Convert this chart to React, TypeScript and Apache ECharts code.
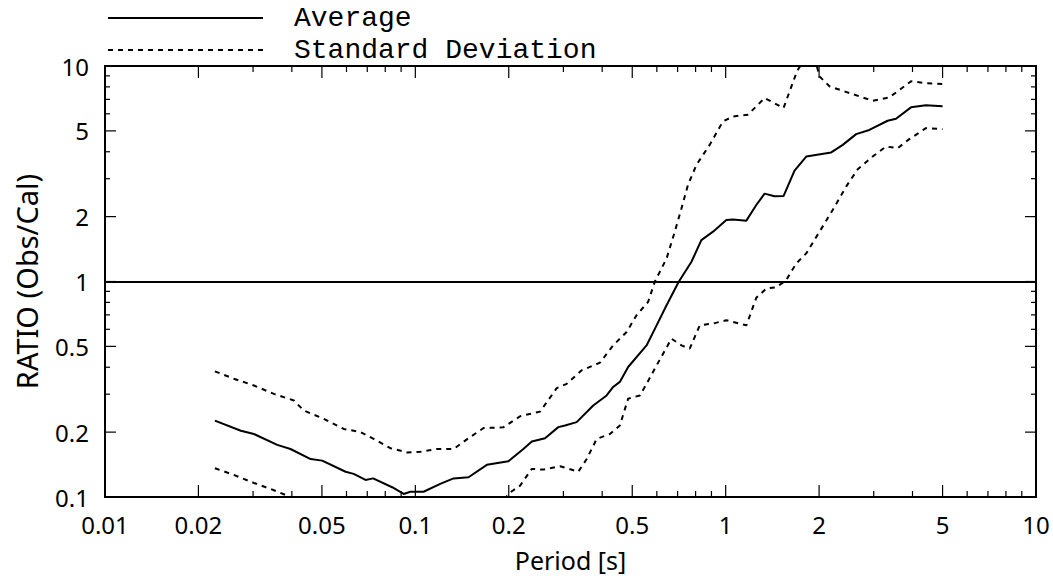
import React, { useEffect, useRef } from "react";
import * as echarts from "echarts";

// ---- data (period [s], ratio) ----
const averagePeriod = [0.0226, 0.0274, 0.0302, 0.0359, 0.0396, 0.046, 0.0501, 0.0596, 0.0633, 0.0691, 0.0731, 0.0842, 0.0917, 0.0964, 0.1063, 0.1203, 0.1328, 0.1484, 0.17, 0.1995, 0.2229, 0.2373, 0.2618, 0.2889, 0.3036, 0.331, 0.3744, 0.4134, 0.434, 0.456, 0.485, 0.556, 0.599, 0.645, 0.706, 0.776, 0.835, 0.9105, 1.005, 1.056, 1.166, 1.255, 1.335, 1.437, 1.536, 1.667, 1.818, 2.188, 2.384, 2.633, 2.904, 3.326, 3.539, 3.955, 4.418, 5.0];
const averageRatio = [0.226, 0.203, 0.196, 0.1745, 0.167, 0.15, 0.1475, 0.131, 0.128, 0.12, 0.122, 0.111, 0.1033, 0.1058, 0.1058, 0.115, 0.122, 0.1235, 0.141, 0.1466, 0.167, 0.181, 0.1875, 0.211, 0.2146, 0.2226, 0.266, 0.296, 0.324, 0.342, 0.401, 0.505, 0.626, 0.776, 0.997, 1.235, 1.556, 1.703, 1.928, 1.94, 1.916, 2.264, 2.558, 2.485, 2.49, 3.273, 3.8, 3.97, 4.305, 4.83, 5.05, 5.57, 5.69, 6.43, 6.57, 6.5];

const upperPeriod = [0.0226, 0.026, 0.0302, 0.035, 0.0406, 0.0437, 0.0507, 0.0588, 0.0666, 0.0734, 0.0831, 0.094, 0.1038, 0.1174, 0.1328, 0.15, 0.166, 0.192, 0.2176, 0.2523, 0.2855, 0.3074, 0.3436, 0.3935, 0.434, 0.4795, 0.516, 0.5626, 0.591, 0.645, 0.6855, 0.7205, 0.756, 0.805, 0.888, 0.98, 1.056, 1.179, 1.335, 1.536, 1.7, 1.8, 1.95, 2.006, 2.16, 2.505, 2.976, 3.368, 3.955, 4.418, 5.0];
const upperRatio = [0.383, 0.354, 0.329, 0.301, 0.2805, 0.252, 0.2306, 0.207, 0.2, 0.186, 0.1685, 0.161, 0.162, 0.167, 0.167, 0.1895, 0.209, 0.2105, 0.237, 0.249, 0.32, 0.335, 0.387, 0.42, 0.505, 0.583, 0.697, 0.805, 0.997, 1.279, 1.703, 2.185, 2.805, 3.475, 4.305, 5.53, 5.83, 5.94, 7.1, 6.38, 9.5, 10.8, 10.5, 8.95, 8.05, 7.49, 6.9, 7.15, 8.49, 8.33, 8.25];

const lowerPeriod = [0.0226, 0.026, 0.0302, 0.0342, 0.0387, 0.0427, 0.06, 0.1, 0.15, 0.19, 0.2021, 0.2176, 0.2373, 0.2585, 0.2926, 0.335, 0.3566, 0.384, 0.4236, 0.456, 0.485, 0.529, 0.556, 0.599, 0.669, 0.7205, 0.766, 0.825, 0.9105, 1.005, 1.166, 1.255, 1.352, 1.456, 1.567, 1.688, 1.818, 2.006, 2.213, 2.444, 2.664, 2.976, 3.286, 3.581, 3.905, 4.418, 5.0];
const lowerRatio = [0.136, 0.1266, 0.1162, 0.1089, 0.1014, 0.095, 0.085, 0.08, 0.085, 0.095, 0.105, 0.113, 0.135, 0.134, 0.139, 0.131, 0.15, 0.186, 0.196, 0.2146, 0.286, 0.296, 0.335, 0.408, 0.543, 0.505, 0.488, 0.626, 0.638, 0.661, 0.626, 0.84, 0.928, 0.94, 1.014, 1.213, 1.35, 1.703, 2.146, 2.757, 3.319, 3.8, 4.231, 4.155, 4.576, 5.147, 5.09];

// ---- axes ----
const xRange = [0.01, 10];
const yRange = [0.1, 10];
const xMajorTicks = [0.01, 0.02, 0.05, 0.1, 0.2, 0.5, 1, 2, 5, 10];
const xMinorTicks = [0.03, 0.04, 0.06, 0.07, 0.08, 0.09, 0.3, 0.4, 0.6, 0.7, 0.8, 0.9, 3, 4, 6, 7, 8, 9];
const yMajorTicks = [0.1, 0.2, 0.5, 1, 2, 5, 10];
const yMinorTicks = [0.3, 0.4, 0.6, 0.7, 0.8, 0.9, 3, 4, 6, 7, 8, 9];
const referenceRatio = 1;

const seriesNames = ["Average", "Standard Deviation"];
const xAxisName = "Period [s]";
const yAxisName = "RATIO (Obs/Cal)";

const pairs = (xs: number[], ys: number[]) => xs.map((x, i) => [x, ys[i]]);

const TICK_FONT = '24px "Noto Sans", sans-serif';

function xTickSeries(values: number[], major: boolean) {
  return {
    type: "custom",
    silent: true,
    z: 5,
    clip: false,
    data: values.map((v) => [v, yRange[0]]),
    renderItem: (params: any, api: any) => {
      const v = api.value(0);
      const b = api.coord([v, yRange[0]]);
      const t = api.coord([v, yRange[1]]);
      const len = major ? 12 : 6;
      const children: any[] = [
        { type: "line", shape: { x1: b[0], y1: b[1], x2: b[0], y2: b[1] - len }, style: { stroke: "#000", lineWidth: 1.2 } },
        { type: "line", shape: { x1: t[0], y1: t[1], x2: t[0], y2: t[1] + len }, style: { stroke: "#000", lineWidth: 1.2 } },
      ];
      if (major) {
        children.push({
          type: "text",
          x: b[0],
          y: b[1] + 27,
          style: { text: String(values[params.dataIndex]), font: TICK_FONT, fill: "#000", align: "center", verticalAlign: "middle" },
        });
      }
      return { type: "group", children };
    },
  };
}

function yTickSeries(values: number[], major: boolean) {
  return {
    type: "custom",
    silent: true,
    z: 5,
    clip: false,
    data: values.map((v) => [xRange[0], v]),
    renderItem: (params: any, api: any) => {
      const v = api.value(1);
      const l = api.coord([xRange[0], v]);
      const r = api.coord([xRange[1], v]);
      const len = major ? 11 : 5;
      const children: any[] = [
        { type: "line", shape: { x1: l[0], y1: l[1], x2: l[0] + len, y2: l[1] }, style: { stroke: "#000", lineWidth: 1.2 } },
        { type: "line", shape: { x1: r[0], y1: r[1], x2: r[0] - len, y2: r[1] }, style: { stroke: "#000", lineWidth: 1.2 } },
      ];
      if (major) {
        children.push({
          type: "text",
          x: l[0] - 16,
          y: l[1],
          style: { text: String(values[params.dataIndex]), font: TICK_FONT, fill: "#000", align: "right", verticalAlign: "middle" },
        });
      }
      return { type: "group", children };
    },
  };
}

export default function App() {
  const ref = useRef<HTMLDivElement>(null);

  useEffect(() => {
    document.body.style.margin = "0";
    if (!ref.current) return;
    const chart = echarts.init(ref.current, null, { renderer: "svg" });
    const lineCommon = {
      type: "line",
      symbol: "none",
      showSymbol: false,
      clip: true,
      z: 3,
    };
    chart.setOption({
      animation: false,
      backgroundColor: "#fff",
      grid: {
        left: 105,
        right: 17,
        top: 66,
        bottom: 83,
        containLabel: false,
        outerBoundsMode: "none",
        show: true,
        borderColor: "#000",
        borderWidth: 2,
        backgroundColor: "transparent",
      },
      legend: {
        data: seriesNames,
        orient: "vertical",
        left: 102,
        top: -1,
        itemWidth: 155,
        itemHeight: 14,
        itemGap: 4,
        selectedMode: false,
        itemStyle: { opacity: 0 },
        textStyle: {
          fontFamily: '"Liberation Mono", monospace',
          fontSize: 28,
          color: "#000",
          padding: [0, 0, 0, 26],
        },
      },
      xAxis: {
        type: "log",
        logBase: 10,
        min: xRange[0],
        max: xRange[1],
        name: xAxisName,
        nameLocation: "middle",
        nameGap: 50,
        nameTextStyle: { fontFamily: '"Noto Sans", sans-serif', fontSize: 25, color: "#000" },
        axisLine: { show: false },
        axisTick: { show: false },
        axisLabel: { show: false },
        splitLine: { show: false },
      },
      yAxis: {
        type: "log",
        logBase: 10,
        min: yRange[0],
        max: yRange[1],
        name: yAxisName,
        nameLocation: "middle",
        nameRotate: 90,
        nameGap: 64,
        nameTextStyle: { fontFamily: '"Noto Sans", sans-serif', fontSize: 29, color: "#000" },
        axisLine: { show: false },
        axisTick: { show: false },
        axisLabel: { show: false },
        splitLine: { show: false },
      },
      series: [
        {
          ...lineCommon,
          name: seriesNames[0],
          data: pairs(averagePeriod, averageRatio),
          lineStyle: { color: "#000", width: 2, type: "solid" },
          itemStyle: { color: "#000" },
          markLine: {
            silent: true,
            symbol: ["none", "none"],
            label: { show: false },
            lineStyle: { color: "#000", type: "solid", width: 1.8 },
            data: [{ yAxis: referenceRatio }],
          },
        },
        {
          ...lineCommon,
          name: seriesNames[1],
          data: pairs(upperPeriod, upperRatio),
          lineStyle: { color: "#000", width: 2, type: [5, 5] },
          itemStyle: { color: "#000" },
        },
        {
          ...lineCommon,
          name: seriesNames[1],
          data: pairs(lowerPeriod, lowerRatio),
          lineStyle: { color: "#000", width: 2, type: [5, 5] },
          itemStyle: { color: "#000" },
        },
        xTickSeries(xMajorTicks, true),
        xTickSeries(xMinorTicks, false),
        yTickSeries(yMajorTicks, true),
        yTickSeries(yMinorTicks, false),
      ],
    });
    return () => chart.dispose();
  }, []);

  return <div ref={ref} style={{ width: 1053, height: 580 }} />;
}
